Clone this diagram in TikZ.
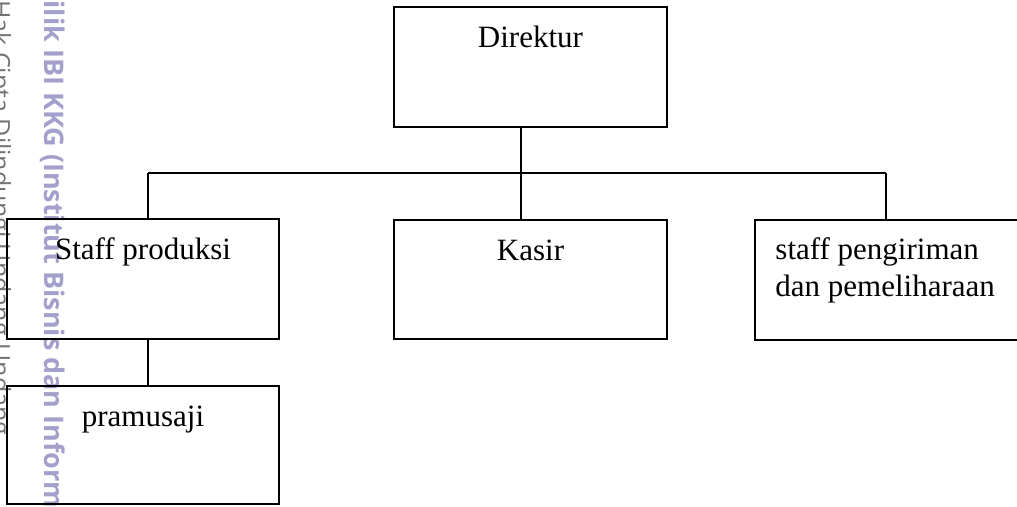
\documentclass[tikz,border=0pt]{standalone}
\usepackage{fontspec}
\setmainfont{Liberation Serif}
\newfontfamily\wmfont{Open Sans}
\definecolor{wmblue}{RGB}{163,160,204}
\definecolor{wmgray}{RGB}{115,115,115}
\tikzset{
  box/.style={draw=black, line width=1.5pt, rectangle, inner sep=0pt},
  lbl/.style={font=\fontsize{31}{37}\selectfont, inner sep=0pt},
  conn/.style={draw=black, line width=1.5pt},
  wmbig/.style={font=\wmfont\bfseries\fontsize{27}{30}\selectfont, text=wmblue, inner sep=0pt, rotate=-90, anchor=base west},
  wmthin/.style={font=\wmfont\fontsize{25}{28}\selectfont, text=wmgray, inner sep=0pt, rotate=-90, anchor=base west}
}
\begin{document}
\begin{tikzpicture}[x=1pt,y=-1pt]
\useasboundingbox (0,0) rectangle (1017,506);
\clip (0,0) rectangle (1017,506);
\fill[white] (0,0) rectangle (1017,506);
% watermark
\node[wmthin] (wm2) at (-8,0) {Hak Cipta Dilindungi Undang-Undang};
\node[wmbig] (wm1) at (44,-25) {Milik IBI KKG (Institut Bisnis dan Informatika Kwik Kian Gie)};
% boxes
\node[box, minimum width=273pt, minimum height=120pt] (dir) at (530.5,67) {};
\node[box, minimum width=272pt, minimum height=120pt] (sp) at (143,279) {};
\node[box, minimum width=273pt, minimum height=119pt] (ks) at (530.5,279.5) {};
\node[box, minimum width=272pt, minimum height=120pt] (rb) at (891,280) {};
\node[box, minimum width=272pt, minimum height=118pt] (pm) at (143,445) {};
% labels
\node[lbl, anchor=base] (tdir) at ([yshift=-41pt]dir.north) {Direktur};
\node[lbl, anchor=base] (tsp) at ([yshift=-41pt]sp.north) {Staff produksi};
\node[lbl, anchor=base] (tks) at ([yshift=-41pt]ks.north) {Kasir};
\node[lbl, anchor=base] (tpm) at ([yshift=-41pt]pm.north) {pramusaji};
\node[lbl, anchor=base west, align=left] (trb) at ([xshift=21pt,yshift=-77pt]rb.north west) {staff pengiriman\\dan pemeliharaan};
% connectors
\coordinate (jdir) at (521,173);
\coordinate (jl) at (148,173);
\coordinate (jr) at (886,173);
\draw[conn] (dir.south -| jdir) -- (jdir);
\draw[conn] (jl) -- (jr);
\draw[conn] (jl) -- (sp.north -| jl);
\draw[conn] (jdir) -- (ks.north -| jdir);
\draw[conn] (jr) -- (rb.north -| jr);
\draw[conn] (sp.south -| jl) -- (pm.north -| jl);
\end{tikzpicture}
\end{document}
